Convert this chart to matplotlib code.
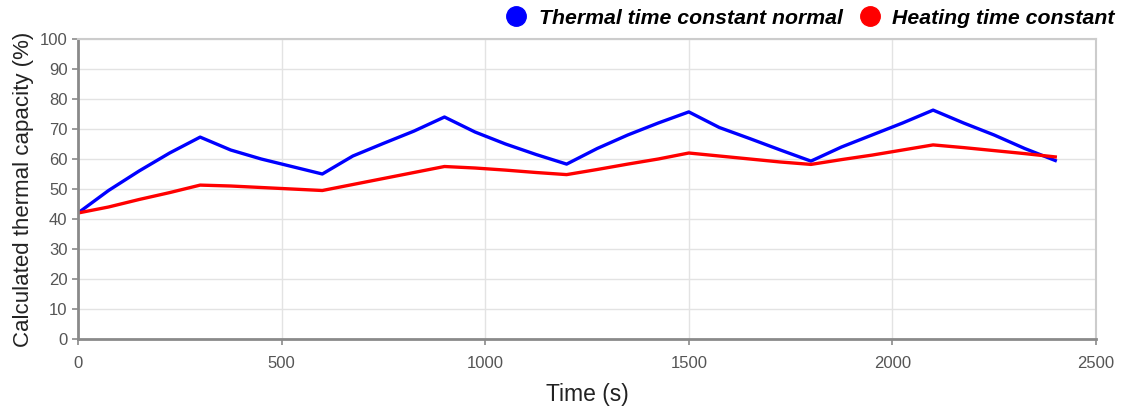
import matplotlib.pyplot as plt
from matplotlib.lines import Line2D

plt.rcParams['font.family'] = ['Liberation Sans', 'DejaVu Sans']

tempo = [0, 75, 150, 225, 300, 375, 450, 525, 600, 675, 750, 825, 900, 975,
         1050, 1125, 1200, 1275, 1350, 1425, 1500, 1575, 1650, 1725, 1800,
         1875, 1950, 2025, 2100, 2175, 2250, 2325, 2400]

normal = [42, 49.5, 56, 62, 67.3, 63, 60, 57.5, 55, 61, 65.2, 69.3, 74,
          69, 65, 61.5, 58.3, 63.5, 68, 72, 75.7, 70.5, 66.8, 63, 59.3,
          64, 68, 72, 76.3, 72, 68, 63.5, 59.5]

aquecimento = [42, 44, 46.5, 48.8, 51.3, 51, 50.5, 50, 49.5, 51.5, 53.5,
               55.5, 57.5, 57, 56.3, 55.5, 54.8, 56.5, 58.3, 60, 62, 61,
               60, 59, 58.2, 59.8, 61.3, 63, 64.7, 63.8, 62.8, 61.8, 60.7]

fig = plt.figure(figsize=(11.42, 4.12), dpi=100)
ax = fig.add_axes([0.0683, 0.1772, 0.8914, 0.7281])

ax.plot(tempo, normal, color='#0000ff', lw=2.4, solid_joinstyle='round')
ax.plot(tempo, aquecimento, color='#ff0000', lw=2.4, solid_joinstyle='round')

ax.set_xlim(0, 2500)
ax.set_ylim(0, 100)
ax.set_xticks(range(0, 2501, 500))
ax.set_yticks(range(0, 101, 10))
ax.grid(True, color='#e3e3e3', lw=1)
ax.set_axisbelow(True)

for s in ['left', 'bottom']:
    ax.spines[s].set_color('#8a8a8a')
    ax.spines[s].set_linewidth(2)
for s in ['top', 'right']:
    ax.spines[s].set_color('#cccccc')
    ax.spines[s].set_linewidth(1.5)

ax.tick_params(colors='#8a8a8a', labelcolor='#555555', labelsize=12,
               length=4, width=1.2)
ax.tick_params(axis='x', pad=8)

ax.set_xlabel("Time (s)", fontsize=16.5, color='#222222', labelpad=9)
ax.set_ylabel("Calculated thermal capacity (%)", fontsize=16, color='#222222',
              labelpad=4)

handles = [
    Line2D([], [], marker='o', ls='', color='#0000ff', markersize=14),
    Line2D([], [], marker='o', ls='', color='#ff0000', markersize=14),
]
fig.legend(handles, ["Thermal time constant normal", "Heating time constant"],
           loc='upper right', bbox_to_anchor=(0.993, 1.025), ncol=2,
           frameon=False, handletextpad=0.05, columnspacing=0.3,
           prop={'style': 'italic', 'weight': 'bold', 'size': 15.3})

fig.savefig("out.png", dpi=100)
